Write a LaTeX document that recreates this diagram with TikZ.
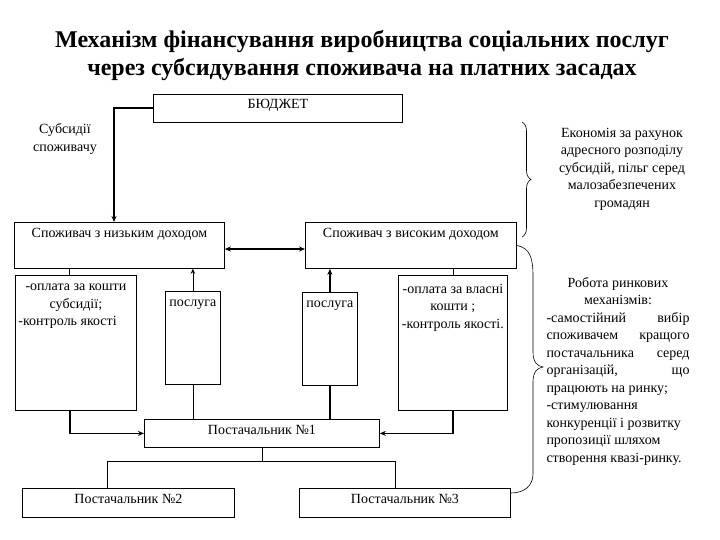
\documentclass[tikz,border=0pt]{standalone}
\usepackage{fontspec}
\setmainfont{Liberation Serif}
\usetikzlibrary{arrows.meta, positioning, decorations.pathreplacing, calc}
\newcommand\bodyfont{\fontsize{14}{17.5}\selectfont}
\newcommand\headfont{\fontsize{24}{28}\selectfont\bfseries}
\tikzset{
  frame/.style={draw, line width=0.8pt, inner sep=0pt, anchor=north west},
  lab/.style={anchor=north, align=center, inner sep=6pt, font=\bodyfont},
  note/.style={align=center, font=\bodyfont, inner sep=0pt},
  link/.style={line width=0.8pt},
  flow/.style={-{Stealth[length=6pt, width=5pt]}, line width=1.8pt},
  flowthin/.style={-{Stealth[length=5pt, width=4.5pt]}, line width=0.8pt},
  flowboth/.style={{Stealth[length=6pt, width=5pt]}-{Stealth[length=6pt, width=5pt]}, line width=1.2pt},
  curly/.style={decorate, decoration={brace, amplitude=#1}, line width=0.6pt},
}
\begin{document}
\begin{tikzpicture}[x=1pt, y=-1pt]
    \useasboundingbox (0,0) rectangle (720,540);
    \node[font=\headfont, align=center] (title) at (362,56)
      {Механізм фінансування виробництва соціальних послуг\\через субсидування споживача на платних засадах};
    % top level
    \node[frame, minimum width=249pt, minimum height=28pt, label={[lab, inner sep=5pt]north:БЮДЖЕТ}] (budget) at (153,94) {};
    \node[note] (subs) at (65,139) {Субсидії\\споживачу};
    \node[frame, minimum width=210pt, minimum height=46pt, label={[lab]north:Споживач з низьким доходом}] (low) at (14,222) {};
    \node[frame, minimum width=211pt, minimum height=46pt, label={[lab]north:Споживач з високим доходом}] (high) at (305,222) {};
    \node[note] (econ) at (622,169) {Економія за рахунок\\адресного розподілу\\субсидій, пільг серед\\малозабезпечених\\громадян};
    % middle level
    \node[frame, minimum width=121pt, minimum height=135pt,
      label={[lab, inner sep=9pt]north:-оплата за кошти\\субсидії;\\\makebox[115pt][l]{-контроль якості}}] (payL) at (15,275) {};
    \node[frame, minimum width=55pt, minimum height=93pt, label={[lab, inner sep=9pt]north:послуга}] (srvL) at (165,291) {};
    \node[frame, minimum width=55pt, minimum height=93pt, label={[lab, inner sep=9pt]north:послуга}] (srvR) at (302,292) {};
    \node[frame, minimum width=109pt, minimum height=135pt,
      label={[lab, inner sep=9pt]north:-оплата за власні\\кошти ;\\-контроль якості.}] (payR) at (398,275) {};
    \node[note, anchor=north, text width=143pt, align=justify] (market) at (618,277)
      {\hspace*{\fill}Робота ринкових\hspace*{\fill}\\
       \hspace*{\fill}механізмів:\hspace*{\fill}\\
       -самостійний вибір\linebreak споживачем кращого\linebreak постачальника серед\linebreak
       організацій, що\linebreak працюють на ринку;\\ -стимулювання\\ конкуренції і розвитку\\
       пропозиції шляхом\\ створення квазі-ринку.};
    % suppliers
    \node[frame, minimum width=235pt, minimum height=28pt, label={[lab]north:Постачальник №1}] (sup1) at (144,419) {};
    \node[frame, minimum width=212pt, minimum height=29pt, label={[lab]north:Постачальник №2}] (sup2) at (22,488) {};
    \node[frame, minimum width=211pt, minimum height=29pt, label={[lab]north:Постачальник №3}] (sup3) at (299,488) {};
    \coordinate (fork) at ($(sup1.south)+(0,14)$);
    \coordinate (b1top) at (522,122);
    \coordinate (b1bot) at (522,237);
    \coordinate (b2bot) at ([yshift=-5pt]sup3.north east);
    % connectors
    \draw[flow] (budget.west) -| ([xshift=100pt]low.north west);
    \draw[flowboth] ([yshift=-27pt]low.north east) -- ([yshift=-27pt]high.north west);
    \draw[link] ([xshift=55pt]low.south west) -- ([xshift=55pt]low.south west |- payL.north);
    \draw[link] ([xshift=148pt]high.south west) -- ([xshift=148pt]high.south west |- payR.north);
    \draw[flow] ([xshift=55pt]payL.south west) |- (sup1.west);
    \draw[flow] ([xshift=55pt]payR.south west) |- (sup1.east);
    \draw[link] (sup1.north -| srvL.south) -- (srvL.south);
    \draw[flowthin] (srvL.north) -- (srvL.north |- low.south);
    \draw[line width=1.8pt] (sup1.north -| srvR.south) -- (srvR.south);
    \draw[flow] (srvR.north) -- (srvR.north |- high.south);
    \draw[link] (sup1.south) -- (fork);
    \draw[link] ([xshift=-21pt]sup2.north) |- (fork) -| ([xshift=-10pt]sup3.north);
    % braces
    \draw[curly=9pt] (b1top) -- (b1bot);
    \draw[line width=0.6pt] (high.east) .. controls (530,248) and (533,258) .. (533,276)
      -- (533,352) .. controls (533,362) and (537,366) .. (543,367)
      .. controls (537,368) and (533,372) .. (533,382)
      -- (533,474) .. controls (533,486) and (524,493) .. (b2bot);
\end{tikzpicture}
\end{document}
